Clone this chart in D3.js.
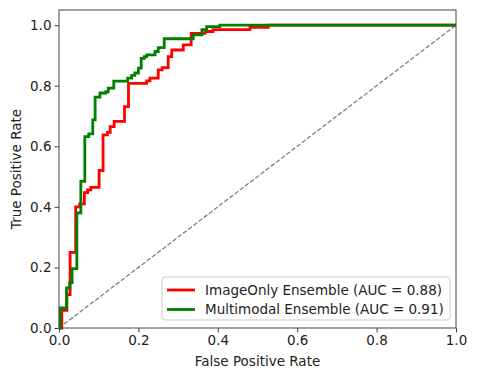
<!DOCTYPE html>
<html>
<head>
<meta charset="utf-8">
<script src="https://cdn.jsdelivr.net/npm/d3@7"></script>
<style>
  body { margin: 0; background: #fff; }
  text { font-family: "DejaVu Sans", sans-serif; fill: #222; }
</style>
</head>
<body>
<div id="chart"></div>
<script>
const w = 477;
const h = 379;
const margin = {left: 59, right: 21, top: 10, bottom: 51};

// ROC vertices
const imageFpr = [0, 0.007, 0.007, 0.02, 0.02, 0.028, 0.028, 0.042, 0.042, 0.052, 0.052, 0.064, 0.064, 0.072, 0.072, 0.08, 0.08, 0.101, 0.101, 0.111, 0.111, 0.122, 0.122, 0.129, 0.129, 0.139, 0.139, 0.165, 0.165, 0.175, 0.175, 0.221, 0.221, 0.229, 0.229, 0.25, 0.25, 0.26, 0.26, 0.275, 0.275, 0.284, 0.284, 0.313, 0.313, 0.333, 0.333, 0.368, 0.368, 0.388, 0.388, 0.481, 0.481, 0.527, 0.527, 1];
const imageTpr = [0, 0, 0.058, 0.058, 0.11, 0.11, 0.25, 0.25, 0.40, 0.40, 0.41, 0.41, 0.447, 0.447, 0.456, 0.456, 0.464, 0.464, 0.52, 0.52, 0.638, 0.638, 0.646, 0.646, 0.665, 0.665, 0.682, 0.682, 0.731, 0.731, 0.808, 0.808, 0.816, 0.816, 0.825, 0.825, 0.852, 0.852, 0.86, 0.86, 0.896, 0.896, 0.918, 0.918, 0.935, 0.935, 0.973, 0.973, 0.979, 0.979, 0.985, 0.985, 0.993, 0.993, 1, 1];

const multiFpr = [0, 0.003, 0.003, 0.019, 0.019, 0.027, 0.027, 0.033, 0.033, 0.045, 0.045, 0.055, 0.055, 0.065, 0.065, 0.075, 0.075, 0.085, 0.085, 0.091, 0.091, 0.103, 0.103, 0.118, 0.118, 0.124, 0.124, 0.138, 0.138, 0.173, 0.173, 0.183, 0.183, 0.191, 0.191, 0.2, 0.2, 0.207, 0.207, 0.215, 0.215, 0.221, 0.221, 0.242, 0.242, 0.25, 0.25, 0.265, 0.265, 0.338, 0.338, 0.36, 0.36, 0.372, 0.372, 0.405, 0.405, 1];
const multiTpr = [0, 0, 0.066, 0.066, 0.132, 0.132, 0.15, 0.15, 0.196, 0.196, 0.38, 0.38, 0.484, 0.484, 0.632, 0.632, 0.641, 0.641, 0.687, 0.687, 0.762, 0.762, 0.776, 0.776, 0.78, 0.78, 0.792, 0.792, 0.815, 0.815, 0.825, 0.825, 0.834, 0.834, 0.842, 0.842, 0.858, 0.858, 0.89, 0.89, 0.896, 0.896, 0.902, 0.902, 0.913, 0.913, 0.926, 0.926, 0.955, 0.955, 0.968, 0.968, 0.985, 0.985, 0.995, 0.995, 1, 1];

const seriesNames = ["ImageOnly Ensemble (AUC = 0.88)", "Multimodal Ensemble (AUC = 0.91)"];
const seriesColors = ["#ff0000", "#008000"];
const ticks = [0, 0.2, 0.4, 0.6, 0.8, 1.0];

const fontSize = "13.5px";

const svg = d3.select("#chart")
    .append("svg")
    .attr("width", w)
    .attr("height", h);

let xScale = d3.scaleLinear()
    .domain([0, 1])
    .range([margin.left, w - margin.right]);

let yScale = d3.scaleLinear()
    .domain([0, 1.05])
    .range([h - margin.bottom, margin.top]);

// chance line
svg.append("line")
    .attr("x1", xScale(0)).attr("y1", yScale(0))
    .attr("x2", xScale(1)).attr("y2", yScale(1))
    .attr("stroke", "#808080")
    .attr("stroke-width", 1.3)
    .attr("stroke-dasharray", "4.5,2");

const line = d3.line()
    .x(d => xScale(d[0]))
    .y(d => yScale(d[1]));

const series = [
    d3.zip(imageFpr, imageTpr),
    d3.zip(multiFpr, multiTpr)
];

svg.selectAll("path.roc")
    .data(series)
    .enter()
    .append("path")
    .attr("class", "roc")
    .attr("d", line)
    .attr("fill", "none")
    .attr("stroke", (d, i) => seriesColors[i])
    .attr("stroke-width", 2.8)
    .attr("stroke-linejoin", "miter");

let xAxis = d3.axisBottom(xScale).tickValues(ticks).tickFormat(d3.format(".1f")).tickSize(4.5).tickPadding(3);
let yAxis = d3.axisLeft(yScale).tickValues(ticks).tickFormat(d3.format(".1f")).tickSize(4.5).tickPadding(3);

const gx = svg.append("g")
    .attr("transform", "translate(0, " + (h - margin.bottom) + ")")
    .call(xAxis);
const gy = svg.append("g")
    .attr("transform", "translate(" + margin.left + ", 0)")
    .call(yAxis);

[gx, gy].forEach(g => {
    g.select(".domain").remove();
    g.selectAll(".tick line").attr("stroke", "#444").attr("stroke-width", 1);
    g.selectAll(".tick text").style("font-size", fontSize).style("font-family", "DejaVu Sans").attr("fill", "#222");
});

// frame
svg.append("rect")
    .attr("x", margin.left)
    .attr("y", margin.top)
    .attr("width", w - margin.left - margin.right)
    .attr("height", h - margin.top - margin.bottom)
    .attr("fill", "none")
    .attr("stroke", "#444")
    .attr("stroke-width", 1);

svg.append("text")
    .attr("x", (margin.left + w - margin.right) / 2)
    .attr("y", 366)
    .attr("text-anchor", "middle")
    .style("font-size", fontSize)
    .text("False Positive Rate");

svg.append("text")
    .attr("transform", "translate(21, " + ((margin.top + h - margin.bottom) / 2) + ") rotate(-90)")
    .attr("text-anchor", "middle")
    .style("font-size", fontSize)
    .text("True Positive Rate");

// legend
const legend = svg.append("g");
legend.append("rect")
    .attr("x", 162)
    .attr("y", 277)
    .attr("width", 288)
    .attr("height", 43)
    .attr("rx", 3)
    .attr("fill", "white")
    .attr("fill-opacity", 0.8)
    .attr("stroke", "#cccccc")
    .attr("stroke-width", 1);

seriesNames.forEach((name, i) => {
    const y = 290 + i * 19.5;
    legend.append("line")
        .attr("x1", 167).attr("x2", 195)
        .attr("y1", y).attr("y2", y)
        .attr("stroke", seriesColors[i])
        .attr("stroke-width", 2.8);
    legend.append("text")
        .attr("x", 205)
        .attr("y", y)
        .attr("dy", "0.35em")
        .style("font-size", fontSize)
        .text(name);
});
</script>
</body>
</html>
